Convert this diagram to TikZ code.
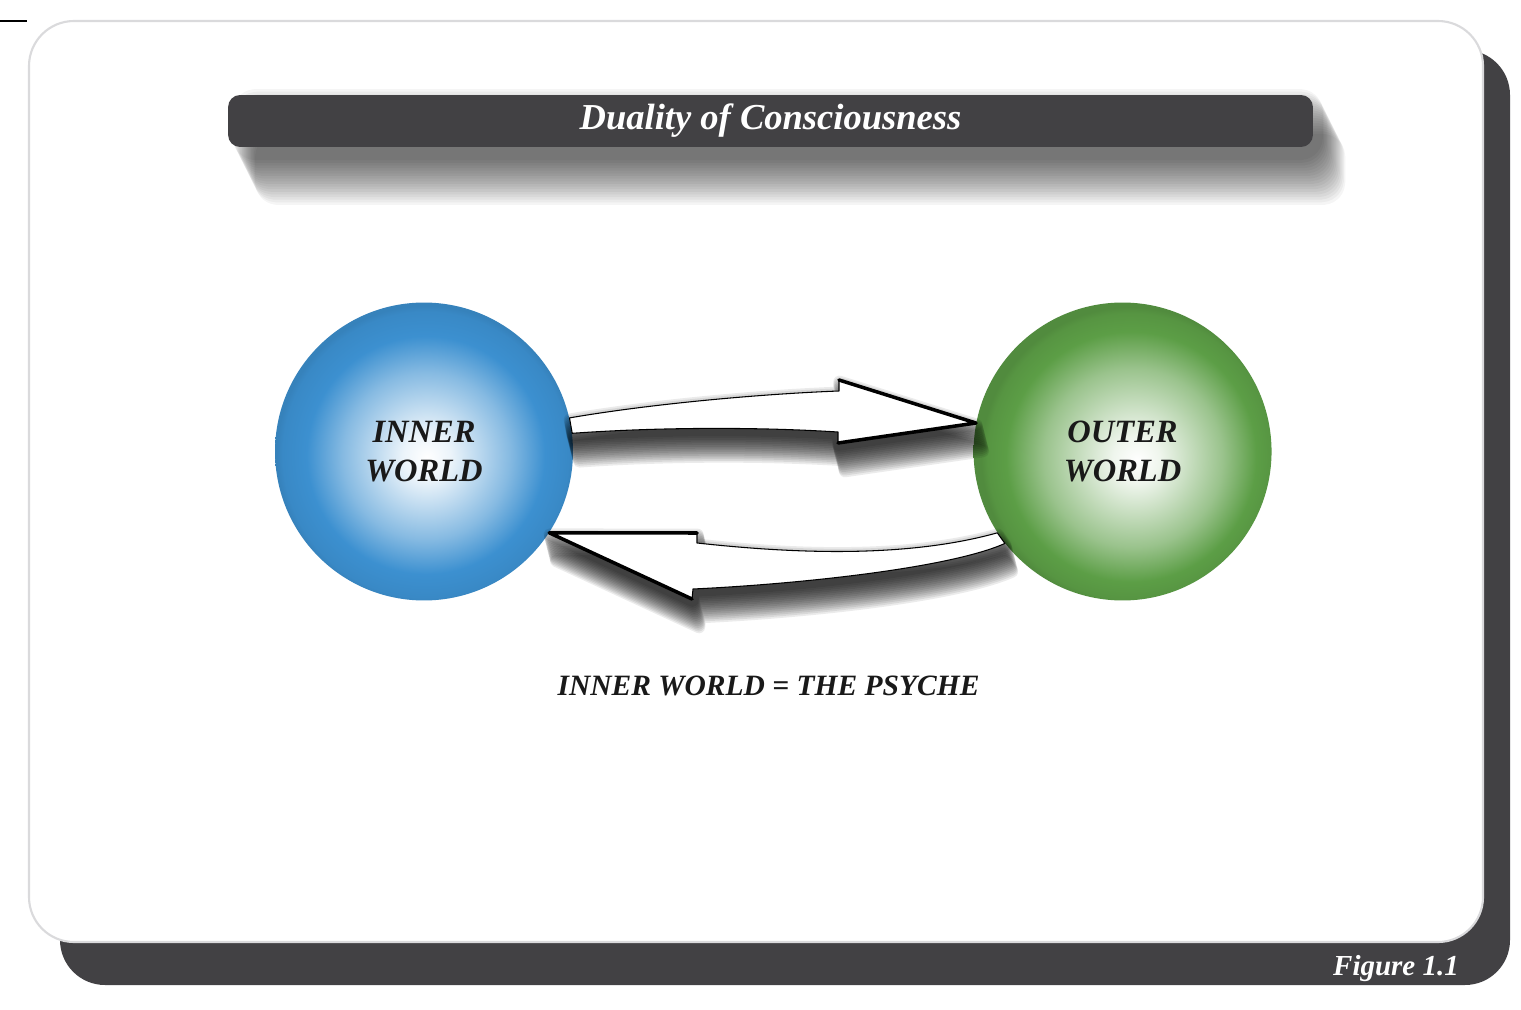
\documentclass[tikz,border=0pt]{standalone}
\usepackage{fontspec}
\setmainfont{Liberation Serif}
\usetikzlibrary{positioning}
\definecolor{paneldark}{RGB}{66,65,68}
\definecolor{panelrim}{RGB}{218,218,220}
\definecolor{innerblue}{RGB}{60,144,208}
\definecolor{outergreen}{RGB}{92,158,70}
\pgfdeclareradialshading{innerball}{\pgfpoint{0.5bp}{-1bp}}{%
  color(0bp)=(white); color(4bp)=(innerblue!10); color(14bp)=(innerblue!62);
  color(20bp)=(innerblue); color(24bp)=(innerblue!95!black);
  color(25bp)=(innerblue!90!black); color(50bp)=(innerblue!90!black)}
\pgfdeclareradialshading{outerball}{\pgfpoint{2.5bp}{-1.5bp}}{%
  color(0bp)=(white); color(4bp)=(outergreen!10); color(15bp)=(outergreen!62);
  color(21bp)=(outergreen); color(24bp)=(outergreen!94!black);
  color(25bp)=(outergreen!88!black); color(50bp)=(outergreen!88!black)}
% soft shadow: x drift, opacity per layer, drop list (pt), layer width, path
\newcommand{\softshadow}[5]{%
  \foreach \s in {#3}{%
    \pgfmathsetmacro\sx{#1*\s}
    \begin{scope}[transparency group, opacity=#2, transform canvas={xshift=\sx pt, yshift=-\s pt}]
      \filldraw[black, line width=#4, line join=round] #5;
    \end{scope}}}

\begin{document}
\begin{tikzpicture}[x=0.02cm, y=-0.02cm,
    every node/.style={align=center, font=\bfseries\itshape},
    ball/.style={circle, minimum size=5.96cm, inner sep=0pt, shade, text=black!90,
      font=\bfseries\itshape\fontsize{18.5}{22.1}\selectfont},
    bigarrow/.style={fill=white, draw=black, line width=0.6pt, line join=round},
    arrowedge/.style={line width=2pt, line cap=round, line join=round}]

    \useasboundingbox (0,0) rectangle (1521,1010);

    % crop mark
    \draw[line width=0.9pt] (0,21) -- (27,21);

    % back and front panels
    \fill[paneldark, rounded corners=0.9cm] (60,50) rectangle (1510,985);
    \draw[panelrim, fill=white, line width=1.2pt, rounded corners=0.9cm] (29,21) rectangle (1483,942);

    % title bar
    \softshadow{0.5}{0.038}{1.5,3,...,27}{12pt}{[rounded corners=0.24cm] (242,97) rectangle (1311,147)}
    \node[fill=paneldark, rounded corners=0.24cm, minimum width=21.7cm, minimum height=1.04cm,
        inner sep=0pt, text=white, font=\bfseries\itshape\fontsize{20.8}{25}\selectfont]
        (title) at (770.5,121) {Duality of Consciousness};

    % the two worlds
    \node[ball, shading=innerball] (innerBall) at (424,451.5) {INNER\\WORLD};
    \node[ball, shading=outerball, right=8.0cm of innerBall] (outerBall) {OUTER\\WORLD};

    \def\arrowOut{(innerBall.13) .. controls (650,404) and (760,394) .. (839,391) -- (839,380)
        -- (outerBall.169) -- (838,443) -- (838,432) .. controls (760,427) and (660,427) .. (innerBall.7) -- cycle}
    \def\arrowBack{(outerBall.213) .. controls (900,560) and (780,552) .. (697,543) -- (697,533)
        -- (innerBall.-33) -- (692,599) -- (693,589) .. controls (800,584) and (950,568) .. (outerBall.218) -- cycle}

    % inner to outer
    \softshadow{0.25}{0.078}{1,2,...,16}{7pt}{\arrowOut}
    \draw[bigarrow] \arrowOut;
    \draw[arrowedge] (839,380) -- (outerBall.169) -- (838,443);

    % outer to inner
    \softshadow{0.25}{0.078}{1,2,...,16}{7pt}{\arrowBack}
    \draw[bigarrow] \arrowBack;
    \draw[arrowedge] (697,533) -- (innerBall.-33) -- (692,599);

    \node[text=black!90, font=\bfseries\itshape\fontsize{16.8}{20}\selectfont] (psyche) at (768.5,685.5) {INNER WORLD = THE PSYCHE};

    \node[anchor=base east, text=white, font=\bfseries\itshape\fontsize{16.5}{20}\selectfont] (figLabel) at (1465,975) {Figure 1.1};

\end{tikzpicture}
\end{document}
